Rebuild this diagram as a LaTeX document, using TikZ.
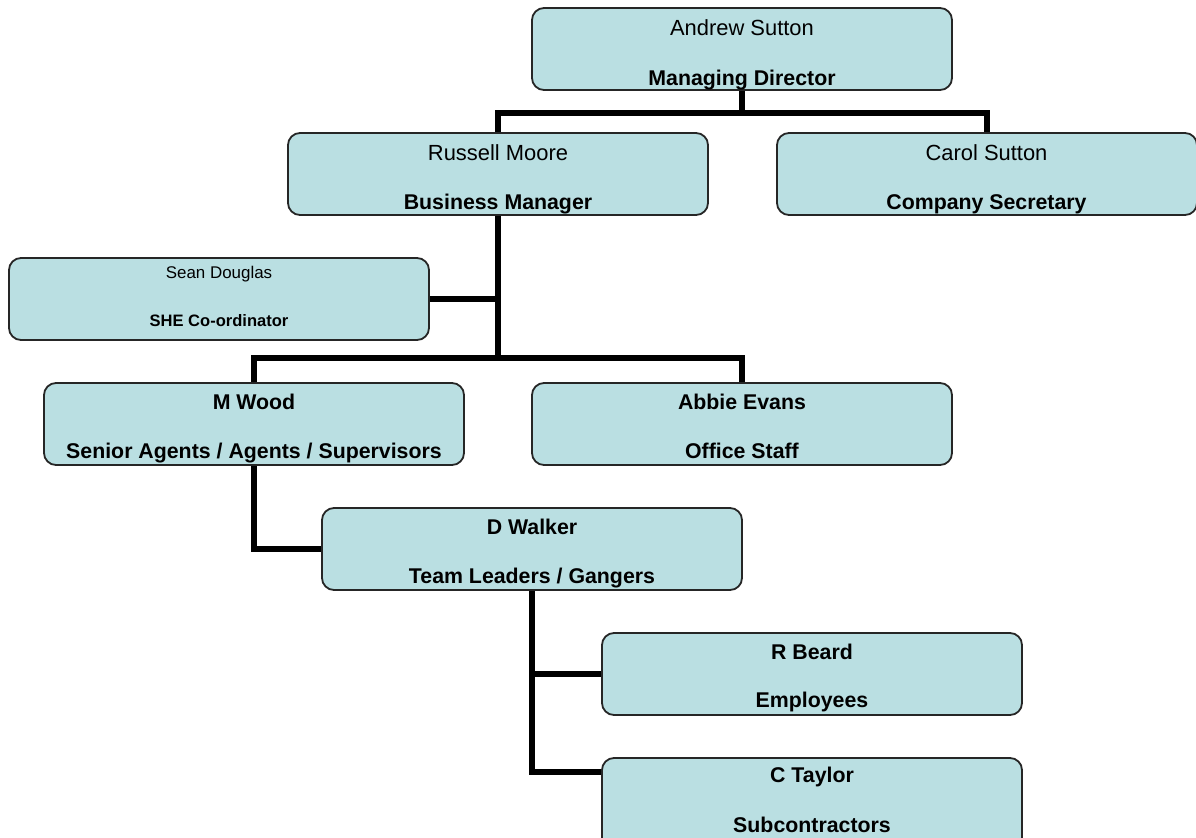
\documentclass[tikz,border=0pt]{standalone}
\usepackage{fontspec}
\setmainfont{Liberation Sans}
\usetikzlibrary{backgrounds}
\definecolor{boxfill}{RGB}{186,223,226}
\tikzset{
  orgbox/.style={draw=black!85, line width=1.8bp, fill=boxfill, rounded corners=12bp,
    minimum width=420bp, minimum height=82bp, inner sep=0pt, outer sep=0pt, anchor=north west},
  big/.style={font=\fontsize{22}{26}\selectfont, anchor=base, inner sep=0pt},
  bigb/.style={font=\fontsize{21.4}{26}\selectfont\bfseries, anchor=base, inner sep=0pt},
  small/.style={font=\fontsize{17}{20}\selectfont, anchor=base, inner sep=0pt},
  smallb/.style={font=\fontsize{16.6}{20}\selectfont\bfseries, anchor=base, inner sep=0pt},
  conn/.style={line width=6bp, black, line cap=rect}
}
\begin{document}
\begin{tikzpicture}[x=1bp,y=-1bp]
\useasboundingbox (0,0) rectangle (1196,838);
\clip (0,0) rectangle (1196,838);
% boxes
\node[orgbox] (md) at (532,8) {};
\node[orgbox] (bm) at (288,133) {};
\node[orgbox] (cs) at (777,133) {};
\node[orgbox] (sd) at (9,258) {};
\node[orgbox] (mw) at (44,383) {};
\node[orgbox] (ae) at (532,383) {};
\node[orgbox] (dw) at (322,508) {};
\node[orgbox] (rb) at (602,633) {};
\node[orgbox, minimum height=100bp] (ct) at (602,758) {};
\coordinate (j1) at (md.south |- 0,113);
\coordinate (j2) at (bm.south |- 0,358);
\coordinate (ctin) at (ct.west |- 0,772);
% texts
\node[big]  (md1) at (742,35) {Andrew Sutton};
\node[bigb] (md2) at (742,85) {Managing Director};
\node[big]  (bm1) at (498,160) {Russell Moore};
\node[bigb] (bm2) at (498,209) {Business Manager};
\node[big]  (cs1) at (986.5,160) {Carol Sutton};
\node[bigb] (cs2) at (986.5,209) {Company Secretary};
\node[small]  (sd1) at (219,278) {Sean Douglas};
\node[smallb] (sd2) at (219,326) {SHE Co-ordinator};
\node[bigb] (mw1) at (254,409) {M Wood};
\node[bigb] (mw2) at (254,458) {Senior Agents / Agents / Supervisors};
\node[bigb] (ae1) at (742,409) {Abbie Evans};
\node[bigb] (ae2) at (742,458) {Office Staff};
\node[bigb] (dw1) at (532,534) {D Walker};
\node[bigb] (dw2) at (532,583) {Team Leaders / Gangers};
\node[bigb] (rb1) at (812,659) {R Beard};
\node[bigb] (rb2) at (812,707) {Employees};
\node[bigb] (ct1) at (812,782) {C Taylor};
\node[bigb] (ct2) at (812,832) {Subcontractors};
% connectors, behind the boxes
\begin{pgfonlayer}{background}
\draw[conn] (md.south) -- (j1);
\draw[conn] (bm.north) |- (j1) -| (cs.north);
\draw[conn] (bm.south) -- (j2);
\draw[conn] (sd.east) -- (sd.east -| bm.south);
\draw[conn] (mw.north) |- (j2) -| (ae.north);
\draw[conn] (mw.south) |- (dw.west);
\draw[conn] (dw.south) |- (rb.west);
\draw[conn] (dw.south) |- (ctin);
\end{pgfonlayer}
\end{tikzpicture}
\end{document}
